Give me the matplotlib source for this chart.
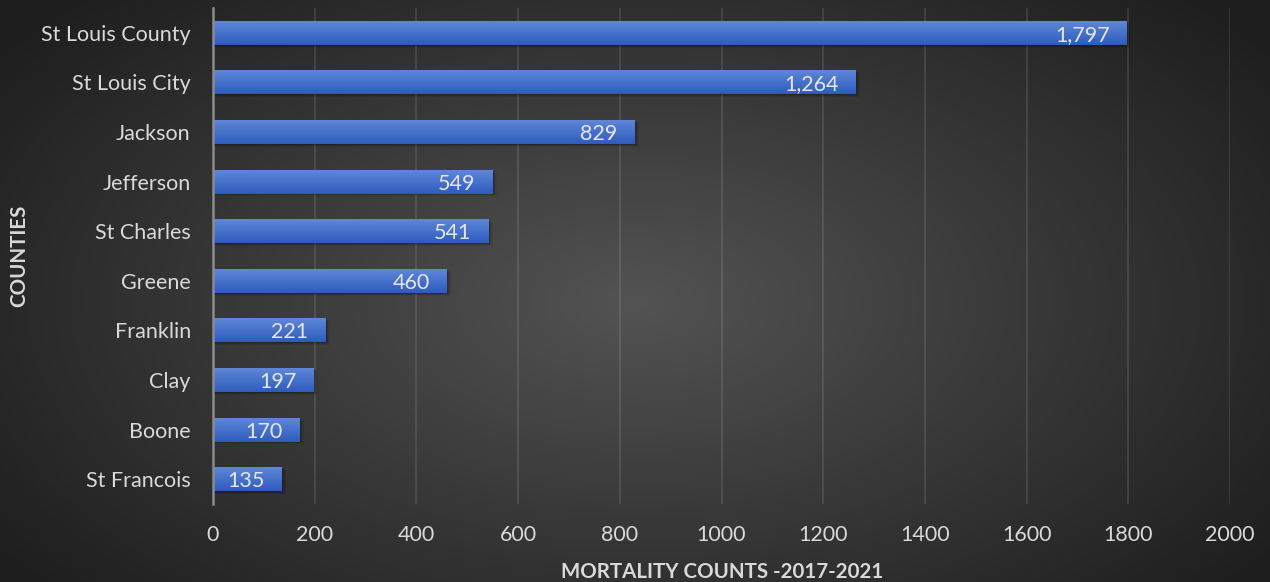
import numpy as np
import matplotlib
matplotlib.use("Agg")
import matplotlib.pyplot as plt
from matplotlib.patches import Rectangle

counties = ["St Louis County", "St Louis City", "Jackson", "Jefferson", "St Charles",
            "Greene", "Franklin", "Clay", "Boone", "St Francois"]
counts = [1797, 1264, 829, 549, 541, 460, 221, 197, 170, 135]
xticks = [0, 200, 400, 600, 800, 1000, 1200, 1400, 1600, 1800, 2000]
xlabel = "MORTALITY COUNTS -2017-2021"
ylabel = "COUNTIES"

plt.rcParams['font.family'] = ['Lato', 'DejaVu Sans']

W, H = 1270, 582
fig = plt.figure(figsize=(W / 100, H / 100), dpi=100)

# radial gradient background
bg = fig.add_axes([0, 0, 1, 1], zorder=-10)
yy, xx = np.mgrid[0:H, 0:W]
cx, cy = 0.50 * W, 0.52 * H
r = np.sqrt(((xx - cx) / (0.62 * W)) ** 2 + ((yy - cy) / (0.75 * H)) ** 2)
r = np.clip(r, 0, 1)
inner = np.array([0x53, 0x53, 0x53]) / 255
outer = np.array([0x1e, 0x1e, 0x1e]) / 255
img = inner[None, None, :] * (1 - r[..., None]) + outer[None, None, :] * r[..., None]
bg.imshow(img, aspect='auto', extent=[0, 1, 0, 1], origin='upper')
bg.axis('off')

ax = fig.add_axes([213 / W, 1 - 504 / H, (1230 - 213) / W, (504 - 8) / H])
ax.set_facecolor('none')

ypos = np.arange(len(counties))
bh = 0.48
ax.set_xlim(0, 2000)
ax.set_ylim(len(counties) - 0.5, -0.5)

# shadows
for y, v in zip(ypos, counts):
    for k, a in [(1, 0.18), (2, 0.12), (3, 0.07)]:
        ax.add_patch(Rectangle((0, y - bh / 2 + 0.02 * k), v + 3 * k, bh, facecolor='black',
                               alpha=a, edgecolor='none', zorder=2))

bars = ax.barh(ypos, counts, height=bh, color='#3d6bcc', zorder=3)
grad = np.linspace(0, 1, 64)[:, None]
c_top = np.array([0x5f, 0x87, 0xd8]) / 255
c_bot = np.array([0x2e, 0x5c, 0xbe]) / 255
gimg = c_top[None, None, :] * (1 - grad[..., None]) + c_bot[None, None, :] * grad[..., None]
gimg = np.repeat(gimg, 2, axis=1)
for b in bars:
    x0, y0, w, h = b.get_x(), b.get_y(), b.get_width(), b.get_height()
    im = ax.imshow(gimg, aspect='auto', extent=[x0, x0 + w, y0 + h, y0], origin='upper',
                   zorder=4, interpolation='bilinear')
    im.set_clip_path(b)

ax.set_xlim(0, 2000)
ax.set_ylim(len(counties) - 0.5, -0.5)

for y, v in zip(ypos, counts):
    ax.annotate(f"{v:,}", xy=(v, y), xytext=(-17, -2), textcoords='offset pixels',
                ha='right', va='center', color='#e6e6e6', fontsize=15.5, zorder=6)

ax.set_xticks(xticks)
ax.set_xticklabels([str(t) for t in xticks])
ax.set_yticks(ypos)
ax.set_yticklabels(counties)
ax.tick_params(axis='both', length=0, colors='#d9d9d9', labelsize=15.5)
ax.tick_params(axis='x', pad=15)
ax.tick_params(axis='y', pad=16)
ax.grid(axis='x', color='white', alpha=0.10, linewidth=1.5, zorder=0)
ax.set_axisbelow(True)
for s in ['top', 'right', 'bottom']:
    ax.spines[s].set_visible(False)
ax.spines['left'].set_color('#8c8c8c')
ax.spines['left'].set_linewidth(1.8)
ax.spines['left'].set_zorder(5)

fig.text(722 / W, 1 - 572 / H, xlabel, ha='center', va='center', color='#d9d9d9',
         fontsize=14.8, fontweight='bold')
fig.text(19 / W, 1 - 256 / H, ylabel, ha='center', va='center', color='#d9d9d9',
         fontsize=14.8, fontweight='bold', rotation=90)

fig.savefig("out.png", dpi=100)
